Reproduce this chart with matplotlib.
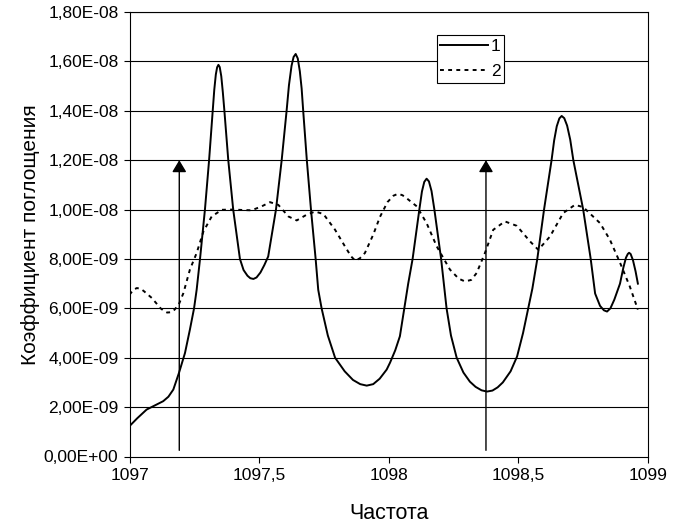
import matplotlib
matplotlib.use("Agg")
import matplotlib.pyplot as plt
from matplotlib.ticker import FixedLocator, FuncFormatter

plt.rcParams['font.family'] = ['Liberation Sans', 'DejaVu Sans']

# Series 1 (solid), values in units of 1e-9
x1 = [1097.000, 1097.030, 1097.066, 1097.100, 1097.130, 1097.150, 1097.169, 1097.191,
      1097.214, 1097.233, 1097.249, 1097.259, 1097.272, 1097.291, 1097.307, 1097.321,
      1097.327, 1097.333, 1097.338, 1097.343, 1097.348, 1097.354, 1097.360, 1097.366,
      1097.381, 1097.400, 1097.426, 1097.440, 1097.455, 1097.466, 1097.478, 1097.490,
      1097.505, 1097.520, 1097.535, 1097.565, 1097.587, 1097.606, 1097.615, 1097.625,
      1097.633, 1097.641, 1097.649, 1097.657, 1097.664, 1097.670, 1097.684, 1097.700,
      1097.718, 1097.728, 1097.741, 1097.765, 1097.793, 1097.830, 1097.862, 1097.890,
      1097.915, 1097.940, 1097.965, 1097.992, 1098.005, 1098.025, 1098.043, 1098.060,
      1098.075, 1098.092, 1098.118, 1098.128, 1098.137, 1098.146, 1098.155, 1098.165,
      1098.176, 1098.202, 1098.223, 1098.240, 1098.262, 1098.288, 1098.313, 1098.335,
      1098.358, 1098.379, 1098.400, 1098.420, 1098.440, 1098.470, 1098.495, 1098.518,
      1098.538, 1098.554, 1098.573, 1098.599, 1098.628, 1098.638, 1098.648, 1098.658,
      1098.667, 1098.677, 1098.688, 1098.700, 1098.712, 1098.750, 1098.779, 1098.796,
      1098.815, 1098.830, 1098.842, 1098.855, 1098.870, 1098.892, 1098.905, 1098.915,
      1098.922, 1098.927, 1098.933, 1098.942, 1098.952, 1098.961]
y1 = [1.23, 1.55, 1.90, 2.08, 2.24, 2.42, 2.71, 3.39,
      4.19, 5.14, 6.00, 6.75, 8.00, 10.0, 12.0, 14.0,
      14.85, 15.47, 15.76, 15.86, 15.77, 15.40, 14.75, 14.0,
      12.0, 10.0, 8.00, 7.55, 7.32, 7.22, 7.19, 7.25,
      7.45, 7.75, 8.10, 10.0, 12.0, 14.0, 15.03, 15.82,
      16.18, 16.30, 16.12, 15.60, 14.90, 14.0, 12.0, 10.0,
      8.00, 6.75, 6.00, 4.90, 4.00, 3.45, 3.10, 2.93,
      2.87, 2.93, 3.15, 3.52, 3.80, 4.30, 4.87, 6.00,
      7.00, 8.00, 10.0, 10.73, 11.12, 11.25, 11.14, 10.75,
      10.0, 8.00, 6.00, 4.90, 4.00, 3.40, 3.03, 2.82,
      2.68, 2.63, 2.67, 2.80, 3.00, 3.45, 4.05, 5.00,
      6.00, 6.80, 8.00, 10.0, 12.0, 12.80, 13.37, 13.69,
      13.79, 13.70, 13.40, 12.83, 12.0, 10.0, 8.00, 6.60,
      6.10, 5.92, 5.87, 6.00, 6.35, 7.00, 7.65, 8.05,
      8.20, 8.25, 8.20, 7.95, 7.50, 7.00]

# Series 2 (dotted), values in units of 1e-9
x2 = [1097.000, 1097.015, 1097.028, 1097.042, 1097.055, 1097.086, 1097.120, 1097.135,
      1097.145, 1097.158, 1097.170, 1097.190, 1097.208, 1097.233, 1097.259, 1097.285,
      1097.317, 1097.356, 1097.400, 1097.440, 1097.471, 1097.510, 1097.542, 1097.574,
      1097.613, 1097.645, 1097.683, 1097.716, 1097.748, 1097.793, 1097.831, 1097.855,
      1097.870, 1097.888, 1097.908, 1097.940, 1097.966, 1097.995, 1098.018, 1098.036,
      1098.053, 1098.070, 1098.108, 1098.146, 1098.185, 1098.236, 1098.270, 1098.294,
      1098.318, 1098.339, 1098.371, 1098.403, 1098.448, 1098.494, 1098.545, 1098.577,
      1098.622, 1098.673, 1098.718, 1098.750, 1098.815, 1098.853, 1098.892, 1098.930,
      1098.961]
y2 = [6.55, 6.75, 6.82, 6.80, 6.70, 6.42, 6.00, 5.88,
      5.83, 5.84, 5.90, 6.15, 6.62, 7.57, 8.24, 9.11,
      9.72, 9.99, 10.0, 9.98, 9.97, 10.13, 10.30, 10.19,
      9.72, 9.56, 9.79, 9.92, 9.82, 9.18, 8.51, 8.10,
      7.94, 8.02, 8.24, 8.98, 9.70, 10.30, 10.56, 10.64,
      10.58, 10.45, 10.13, 9.45, 8.51, 7.57, 7.20, 7.09,
      7.15, 7.43, 8.24, 9.18, 9.52, 9.34, 8.71, 8.37,
      8.91, 9.86, 10.19, 10.10, 9.45, 8.78, 7.85, 6.88,
      5.95]

labels = ["1", "2"]
arrow_x = [1097.192, 1098.375]
arrow_from = 0.25e-9
arrow_to = 1.2e-8

x_ticks = [1097, 1097.5, 1098, 1098.5, 1099]
y_ticks = [i * 2e-9 for i in range(10)]

scale = 1e-9
y1v = [v * scale for v in y1]
y2v = [v * scale for v in y2]

fig = plt.figure(figsize=(6.75, 5.26), dpi=100)
ax = fig.add_axes([129.5 / 675, 1 - 456.5 / 526, (648 - 129.5) / 675, (456.5 - 12) / 526])

for yt in y_ticks[1:]:
    ax.axhline(yt, color='black', lw=0.8, zorder=1)

ax.plot(x1, y1v, color='black', lw=1.4, label=labels[0], zorder=3,
        solid_joinstyle='round')
ax.plot(x2, y2v, color='black', lw=1.4, ls=(0, (2, 2.2)), label=labels[1], zorder=3)

for xa in arrow_x:
    ax.annotate('', xy=(xa, arrow_to), xytext=(xa, arrow_from),
                arrowprops=dict(arrowstyle='-|>,head_length=0.4,head_width=0.24',
                                mutation_scale=18, lw=1.0, color='black',
                                shrinkA=0, shrinkB=0), zorder=4)

ax.set_xlim(1097, 1099)
ax.set_ylim(0, 1.8e-8)
ax.xaxis.set_major_locator(FixedLocator(x_ticks))
ax.yaxis.set_major_locator(FixedLocator(y_ticks))

def xfmt(v, pos):
    return ('%g' % v).replace('.', ',')

def yfmt(v, pos):
    return ('%.2E' % v).replace('.', ',')

ax.xaxis.set_major_formatter(FuncFormatter(xfmt))
ax.yaxis.set_major_formatter(FuncFormatter(yfmt))
ax.tick_params(direction='out', length=4, width=0.8, labelsize=12.5, colors='black', pad=4)

for sp in ax.spines.values():
    sp.set_color('black')
    sp.set_linewidth(0.8)

ax.set_xlabel('Частота', fontsize=15.5, va='bottom')
ax.set_ylabel('Коэффициент поглощения', fontsize=15)
ax.xaxis.set_label_coords(0.5, -0.152)
ax.yaxis.set_label_coords(-0.172, 0.5)

leg = ax.legend(loc='upper left', bbox_to_anchor=(0.593, 0.948), fancybox=False,
                frameon=True, edgecolor='black', fontsize=12.5, handlelength=2.75,
                handletextpad=0.15, borderpad=0.2, labelspacing=0.6,
                borderaxespad=0, framealpha=1)
leg.get_frame().set_linewidth(0.8)

fig.savefig('out.png', dpi=100)
